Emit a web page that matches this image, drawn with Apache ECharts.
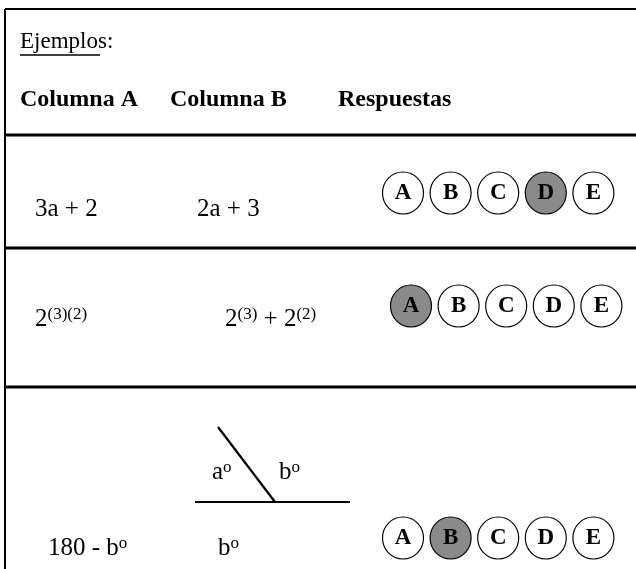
<!DOCTYPE html>
<html>
<head>
<meta charset="utf-8">
<script src="https://cdn.jsdelivr.net/npm/echarts@6/dist/echarts.min.js"></script>
<style>
  html, body { margin: 0; padding: 0; background: #fff; }
  #main { width: 636px; height: 569px; }
</style>
</head>
<body>
<div id="main"></div>
<script>
var chartDom = document.getElementById('main');
var myChart = echarts.init(chartDom);
var option;

// answer choices and the marked answer for each example row
var choices = ['A', 'B', 'C', 'D', 'E'];
var answers = ['D', 'A', 'B'];
var headers = ['Columna A', 'Columna B', 'Respuestas'];
var columnA = ['3a + 2', '2{s|(3)(2)}', '180 - b{s|o}'];
var columnB = ['2a + 3', '2{s|(3)} + 2{s|(2)}', 'b{s|o}'];

// layout (pixels)
var rowY = [193, 306, 538];
var rowTextY = [209, 319, 548];
var bubbleX0 = [403, 411, 403];
var bubbleStep = 47.6;
var colAX = [35, 35, 48];
var colBX = [197, 225, 218];
var headerX = [20, 170, 338];
var ruleY = [135, 248, 387];

var serif = '"Liberation Serif", "Times New Roman", serif';

var bubbleData = [];
answers.forEach(function (ans, r) {
    choices.forEach(function (c, i) {
        bubbleData.push({
            value: [bubbleX0[r] + i * bubbleStep, rowY[r]],
            name: c,
            itemStyle: { color: c === ans ? '#8a8a8a' : '#fff' }
        });
    });
});

var g = [];
// frame and row rules
g.push({ type: 'line', shape: { x1: 5, y1: 9, x2: 636, y2: 9 }, style: { stroke: '#000', lineWidth: 2 } });
g.push({ type: 'line', shape: { x1: 5, y1: 9, x2: 5, y2: 569 }, style: { stroke: '#000', lineWidth: 2 } });
ruleY.forEach(function (y) {
    g.push({ type: 'line', shape: { x1: 5, y1: y, x2: 636, y2: y }, style: { stroke: '#000', lineWidth: 3 } });
});

// title
g.push({ type: 'text', x: 20, y: 42, style: { text: 'Ejemplos:', font: '23px ' + serif, fill: '#000', verticalAlign: 'middle' } });
g.push({ type: 'line', shape: { x1: 20, y1: 55, x2: 100, y2: 55 }, style: { stroke: '#000', lineWidth: 1.3 } });

headers.forEach(function (h, i) {
    g.push({ type: 'text', x: headerX[i], y: 100, style: { text: h, font: 'bold 24px ' + serif, fill: '#000', verticalAlign: 'middle' } });
});

var rich = {
    s: { fontFamily: serif, fontSize: 17, verticalAlign: 'top', fill: '#000' }
};
columnA.forEach(function (t, r) {
    g.push({ type: 'text', x: colAX[r], y: rowTextY[r], style: { text: t, font: '25px ' + serif, fill: '#000', verticalAlign: 'middle', rich: rich } });
});
columnB.forEach(function (t, r) {
    g.push({ type: 'text', x: colBX[r], y: rowTextY[r], style: { text: t, font: '25px ' + serif, fill: '#000', verticalAlign: 'middle', rich: rich } });
});

// angle figure
g.push({ type: 'line', shape: { x1: 195, y1: 502, x2: 350, y2: 502 }, style: { stroke: '#000', lineWidth: 2.2 } });
g.push({ type: 'line', shape: { x1: 218, y1: 427, x2: 275, y2: 502 }, style: { stroke: '#000', lineWidth: 2.2 } });
g.push({ type: 'text', x: 212, y: 472, style: { text: 'a{s|o}', font: '25px ' + serif, fill: '#000', verticalAlign: 'middle', rich: rich } });
g.push({ type: 'text', x: 279, y: 472, style: { text: 'b{s|o}', font: '25px ' + serif, fill: '#000', verticalAlign: 'middle', rich: rich } });

option = {
    animation: false,
    backgroundColor: '#fff',
    grid: { left: 0, right: 0, top: 0, bottom: 0 },
    xAxis: { type: 'value', min: 0, max: 636, show: false },
    yAxis: { type: 'value', min: 0, max: 569, inverse: true, show: false },
    graphic: g,
    series: [
        {
            type: 'scatter',
            symbol: 'circle',
            symbolSize: [41, 42],
            itemStyle: { borderColor: '#000', borderWidth: 1.2, opacity: 1 },
            label: {
                show: true,
                position: 'inside',
                formatter: '{b}',
                color: '#000',
                fontFamily: serif,
                fontWeight: 'bold',
                fontSize: 23
            },
            data: bubbleData
        }
    ]
};

option && myChart.setOption(option);
</script>
</body>
</html>
